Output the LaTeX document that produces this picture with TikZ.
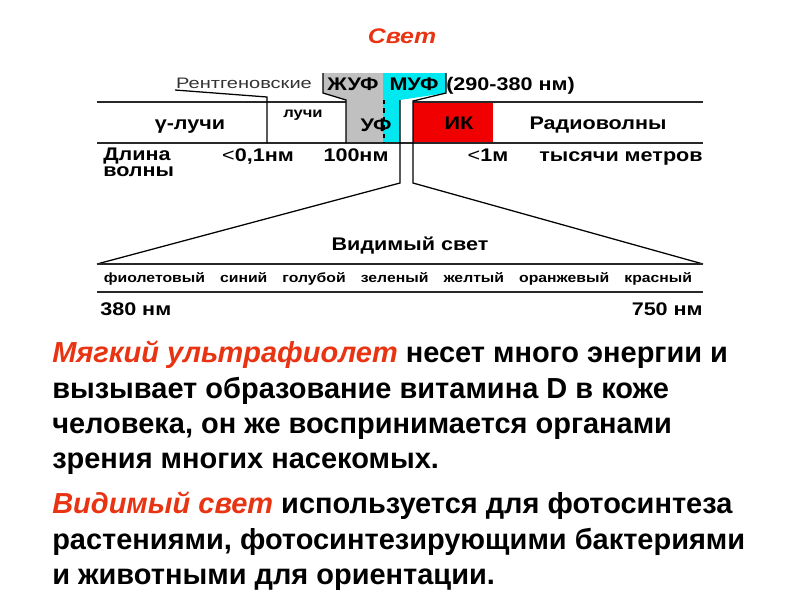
\documentclass[tikz,border=0pt]{standalone}
\usepackage{fontspec}
\setmainfont{Liberation Sans}
\newfontfamily\wideFont[FakeStretch=1.18]{Liberation Sans}
\newfontfamily\xrayFont[FakeStretch=1.32]{Liberation Sans}
\usetikzlibrary{positioning}
\definecolor{titlered}{RGB}{232,52,18}
\definecolor{irred}{RGB}{240,0,0}
\definecolor{uvcyan}{RGB}{0,232,240}
\definecolor{uvgray}{RGB}{192,192,192}
\definecolor{linegray}{RGB}{40,40,40}

\begin{document}
\begin{tikzpicture}[x=0.025cm,y=-0.025cm,
  lbl/.style={font=\wideFont\fontsize{13}{11}\selectfont\bfseries, inner sep=0pt, anchor=base},
  bar/.style={linegray, line width=1.5pt},
  edge/.style={black, line width=0.9pt},
  body/.style={font=\fontsize{20.6}{25.1}\selectfont\bfseries, align=left, anchor=north west, inner sep=0pt}]
  \useasboundingbox[fill=white] (0,0) rectangle (800,600);

  % title
  \node[lbl, font=\wideFont\fontsize{15}{16}\selectfont\bfseries\itshape, text=titlered] (title) at (402,43) {Свет};

  % UV columns and IR box
  \fill[uvgray] (323,73) -- (383,73) -- (383,143) -- (346,143) -- (346,100) -- (323,93) -- cycle;
  \fill[uvcyan] (383,73) -- (446,73) -- (446,93) -- (400,100) -- (400,143) -- (383,143) -- cycle;
  \fill[irred] (413,102) rectangle (493,143);

  % spectrum bar
  \draw[bar] (97,102) -- (346,102);
  \draw[bar] (413,102) -- (703,102);
  \draw[bar] (97,143) -- (703,143);
  \draw[edge] (175,90) -- (267,97) -- (267,143);
  \draw[edge] (323,73) -- (323,93) -- (346,100) -- (346,143);
  \draw[edge, dashed] (384,100) -- (384,143);

  % fan to visible light
  \coordinate (vl) at (97,264);
  \coordinate (vr) at (703,264);
  \draw[edge] (400,100) -- (400,183) -- (vl);
  \draw[edge] (446,73) -- (446,93) -- (413,101) -- (413,183) -- (vr);
  \draw[bar] (vl) -- (vr);
  \draw[bar] (97,292) -- (703,292);

  % labels
  \node[lbl, font=\xrayFont\fontsize{10.8}{11}\selectfont, text=black!80] (xray) at (244,88) {Рентгеновские};
  \node[lbl] (euv) at (353,90) {ЖУФ};
  \node[lbl] (muv) at (414,90) {МУФ};
  \node[lbl, anchor=base west] (muvnm) at (446,90) {(290-380 нм)};
  \node[lbl] (gamma) at (190,129) {γ-лучи};
  \node[lbl, font=\wideFont\fontsize{10}{11}\selectfont\bfseries] (xray2) at (303,117) {лучи};
  \node[lbl] (uv) at (376,131) {УФ};
  \node[lbl] (ir) at (459,129) {ИК};
  \node[lbl] (radio) at (598,129) {Радиоволны};
  \node[lbl, anchor=base west, align=left] (len) at (103,176) {Длина\\волны};
  \node[lbl] (nm01) at (258,161) {{\mdseries<}0,1нм};
  \node[lbl] (nm100) at (356,161) {100нм};
  \node[lbl] (m1) at (488,161) {{\mdseries<}1м};
  \node[lbl] (km) at (621,161) {тысячи метров};
  \node[lbl] (vis) at (410,250) {Видимый свет};
  \node[lbl, font=\wideFont\fontsize{9.5}{10}\selectfont\bfseries] (colors) at (398,282)
    {\makebox[14.7cm][s]{фиолетовый синий голубой зеленый желтый оранжевый красный}};
  \node[lbl, anchor=base west] (nm380) at (100,315) {380 нм};
  \node[lbl, anchor=base east] (nm750) at (703,315) {750 нм};

  % text
  \node[body] (para1) at (52,341) {\textcolor{titlered}{\itshape Мягкий ультрафиолет} несет много энергии и\\
    вызывает образование витамина D в коже\\
    человека, он же воспринимается органами\\
    зрения многих насекомых.};
  \node[body] (para2) at (52,492) {\textcolor{titlered}{\itshape Видимый свет} используется для фотосинтеза\\
    растениями, фотосинтезирующими бактериями\\
    и животными для ориентации.};
\end{tikzpicture}
\end{document}
